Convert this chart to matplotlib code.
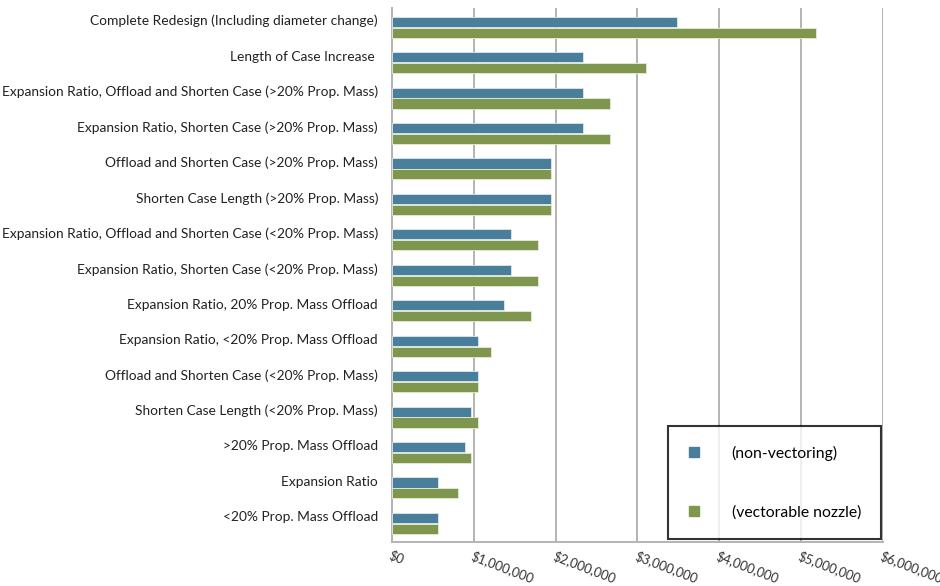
import numpy as np
import matplotlib.pyplot as plt
import matplotlib.transforms as mtransforms
from matplotlib.lines import Line2D

# categories from top to bottom
categories = [
    "Complete Redesign (Including diameter change)",
    "Length of Case Increase ",
    "Expansion Ratio, Offload and Shorten Case (>20% Prop. Mass)",
    "Expansion Ratio, Shorten Case (>20% Prop. Mass)",
    "Offload and Shorten Case (>20% Prop. Mass)",
    "Shorten Case Length (>20% Prop. Mass)",
    "Expansion Ratio, Offload and Shorten Case (<20% Prop. Mass)",
    "Expansion Ratio, Shorten Case (<20% Prop. Mass)",
    "Expansion Ratio, 20% Prop. Mass Offload",
    "Expansion Ratio, <20% Prop. Mass Offload",
    "Offload and Shorten Case (<20% Prop. Mass)",
    "Shorten Case Length (<20% Prop. Mass)",
    ">20% Prop. Mass Offload",
    "Expansion Ratio",
    "<20% Prop. Mass Offload",
]
non_vectoring = [3480000, 2340000, 2340000, 2340000, 1940000, 1940000, 1455000,
                 1455000, 1370000, 1050000, 1050000, 970000, 890000, 560000, 560000]
vectorable = [5180000, 3110000, 2670000, 2670000, 1940000, 1940000, 1780000,
              1780000, 1700000, 1210000, 1050000, 1050000, 970000, 810000, 560000]
xticks = [0, 1000000, 2000000, 3000000, 4000000, 5000000, 6000000]
xlabels = ["$0", "$1,000,000", "$2,000,000", "$3,000,000", "$4,000,000",
           "$5,000,000", "$6,000,000"]

blue = "#4A7F9C"
green = "#7F964F"
plt.rcParams['font.family'] = ['Lato', 'DejaVu Sans']

fig = plt.figure(figsize=(9.4, 5.86), dpi=100)
ax = fig.add_axes([0.417, 0.0754, 0.5223, 0.9109])

y = np.arange(len(categories))
h = 0.285
ax.barh(y - h/2 - 0.01, non_vectoring, height=h, color=blue, edgecolor="#dfe9ee", linewidth=0.6, zorder=3)
ax.barh(y + h/2 + 0.01, vectorable, height=h, color=green, edgecolor="#e6ecd9", linewidth=0.6, zorder=3)

ax.set_xlim(0, 6000000)
ax.set_ylim(14.52, -0.54)
ax.set_xticks(xticks)
ax.set_xticklabels(xlabels, rotation=-21, ha="left", va="top", rotation_mode="anchor",
                   fontsize=9.4, color="#333333")
ax.set_yticks(y)
ax.set_yticklabels(categories, fontsize=9.9, color="#222222")
ax.tick_params(axis="y", length=0, pad=10)
ax.tick_params(axis="x", length=0, pad=5)

# labels sit a little above the bar pair centre
offset = mtransforms.ScaledTranslation(0, 7/100, fig.dpi_scale_trans)
for lab in ax.get_yticklabels():
    lab.set_transform(lab.get_transform() + offset)

ax.grid(axis="x", color="#b3b3b3", linewidth=1.4, zorder=0)
for s in ["top", "right"]:
    ax.spines[s].set_visible(False)
for s in ["left", "bottom"]:
    ax.spines[s].set_color("#b3b3b3")
    ax.spines[s].set_linewidth(1.4)

handles = [Line2D([], [], marker="s", linestyle="none", markersize=7, color=blue),
           Line2D([], [], marker="s", linestyle="none", markersize=7, color=green)]
leg = fig.legend(handles, ["(non-vectoring)", "(vectorable nozzle)"],
                 loc="upper left", bbox_to_anchor=(668/940, 1 - 426/586),
                 borderaxespad=0, frameon=True, fancybox=False, fontsize=11.3,
                 labelspacing=2.85, handletextpad=2.0, borderpad=1.25, handlelength=0.8)
leg.get_frame().set_edgecolor("black")
leg.get_frame().set_linewidth(1.5)

fig.savefig("out.png", dpi=100)
